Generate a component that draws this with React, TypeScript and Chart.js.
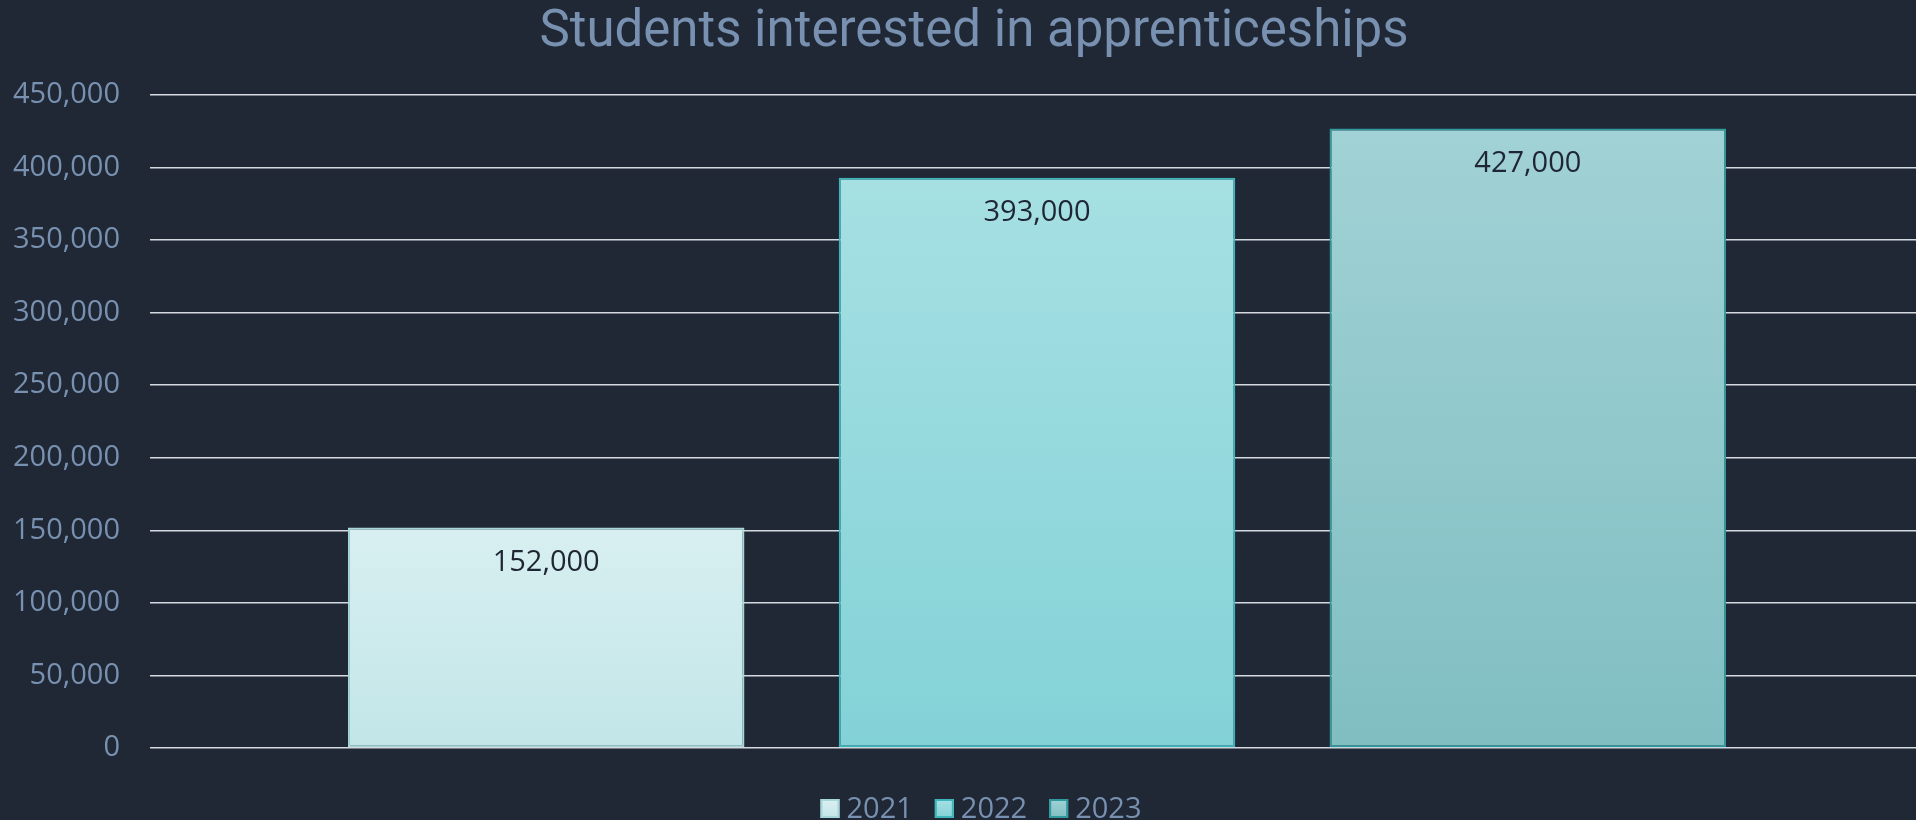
import React, { useEffect, useRef } from "react";
import { Chart, registerables } from "chart.js";

Chart.register(...registerables);

const title = "Students interested in apprenticeships";
const categories = [""];
const years = ["2021", "2022", "2023"];
const values = [152000, 393000, 427000];
const yTicks = [0, 50000, 100000, 150000, 200000, 250000, 300000, 350000, 400000, 450000];

const gradTop = ["#d8eff1", "#a6e0e3", "#a1d2d5"];
const gradBottom = ["#c2e6e8", "#83d2d7", "#80bec2"];
const borders = ["#a6d8db", "#3cb6bb", "#2e9a9e"];
const legendTop = ["#dcf0f2", "#a6e0e3", "#a1d2d5"];
const legendBottom = ["#c2e6e8", "#83d2d7", "#80bec2"];

const BG = "#202735";
const TEXT = "#7891b0";
const W = 1950;
const H = 820;
const FONT = "'Open Sans'";

const fmt = (v: number) => v.toLocaleString("en-US");

const labelPlugin = {
  id: "barLabels",
  afterDatasetsDraw(chart: any) {
    const ctx = chart.ctx;
    ctx.save();
    ctx.font = `29px ${FONT}`;
    ctx.fillStyle = "#1f2633";
    ctx.textAlign = "center";
    ctx.textBaseline = "middle";
    chart.data.datasets.forEach((ds: any, i: number) => {
      const meta = chart.getDatasetMeta(i);
      meta.data.forEach((el: any, j: number) => {
        ctx.fillText(fmt(ds.data[j]), el.x, el.y + 35);
      });
    });
    ctx.restore();
  },
};

const legendPlugin = {
  id: "customLegend",
  afterDraw(chart: any) {
    const ctx = chart.ctx;
    ctx.save();
    ctx.font = `29px ${FONT}`;
    const box = 19;
    const gap = 7;
    const itemGap = 22;
    const widths = years.map((y) => box + gap + ctx.measureText(y).width);
    const total = widths.reduce((a, b) => a + b, 0) + itemGap * (years.length - 1);
    let x = chart.width / 2 + 6 - total / 2;
    const boxTop = 799;
    const baseline = 818;
    years.forEach((y, i) => {
      const g = ctx.createLinearGradient(0, boxTop, 0, boxTop + box);
      g.addColorStop(0, legendTop[i]);
      g.addColorStop(1, legendBottom[i]);
      ctx.fillStyle = g;
      ctx.fillRect(x, boxTop, box, box);
      ctx.strokeStyle = borders[i];
      ctx.lineWidth = 2;
      ctx.strokeRect(x + 1, boxTop + 1, box - 2, box - 2);
      ctx.fillStyle = TEXT;
      ctx.textAlign = "left";
      ctx.textBaseline = "alphabetic";
      ctx.fillText(y, x + box + gap, baseline);
      x += widths[i] + itemGap;
    });
    ctx.restore();
  },
};

const bgPlugin = {
  id: "bg",
  beforeDraw(chart: any) {
    const ctx = chart.ctx;
    ctx.save();
    ctx.fillStyle = BG;
    ctx.fillRect(0, 0, chart.width, chart.height);
    ctx.restore();
  },
};

// widen the y-axis label clip box to the canvas edge so long tick labels are not cut
const axisClipPlugin = {
  id: "axisClip",
  afterLayout(chart: any) {
    if (chart.scales.y) chart.scales.y.left = 0;
  },
};

export default function App() {
  const ref = useRef<HTMLCanvasElement>(null);
  useEffect(() => {
    document.body.style.margin = "0";
    document.body.style.overflow = "hidden";
    document.body.style.background = BG;
    const chart = new Chart(ref.current!, {
      type: "bar",
      data: {
        labels: categories,
        datasets: years.map((y, i) => ({
          label: y,
          data: [values[i]],
          backgroundColor: (c: any) => {
            const ch = c.chart;
            const area = ch.chartArea;
            if (!area || !ch.scales.y) return gradTop[i];
            const top = ch.scales.y.getPixelForValue(values[i]);
            const g = ch.ctx.createLinearGradient(0, top, 0, area.bottom);
            g.addColorStop(0, gradTop[i]);
            g.addColorStop(1, gradBottom[i]);
            return g;
          },
          borderColor: borders[i],
          borderWidth: 2,
          borderSkipped: false,
          barPercentage: 0.808,
          categoryPercentage: 0.83,
        })),
      },
      options: {
        animation: false,
        responsive: false,
        maintainAspectRatio: false,
        layout: { padding: { left: 24, right: 26, top: 0, bottom: 72 } },
        plugins: {
          title: {
            display: true,
            text: title,
            color: TEXT,
            font: { family: "Roboto", size: 51, weight: "normal" },
            padding: { top: 3, bottom: 30.8 },
          },
          legend: { display: false },
          tooltip: { enabled: false },
        },
        scales: {
          x: {
            ticks: { display: false },
            grid: { display: false },
            border: { display: false },
            afterFit: (axis: any) => {
              axis.height = 0;
            },
          },
          y: {
            min: 0,
            max: 450000,
            afterBuildTicks: (axis: any) => {
              axis.ticks = yTicks.map((v) => ({ value: v }));
            },
            afterFit: (axis: any) => {
              axis.width = 126;
            },
            ticks: {
              color: TEXT,
              font: { family: FONT, size: 29 },
              padding: 30,
              callback: (v: any) => fmt(Number(v)),
            },
            grid: { color: "#d5d9e0", lineWidth: 1.5, drawTicks: false },
            border: { display: false },
          },
        },
      },
      plugins: [bgPlugin, axisClipPlugin, labelPlugin, legendPlugin],
    });
    return () => chart.destroy();
  }, []);
  return (
    <div style={{ width: W, height: H, overflow: "hidden" }}>
      <canvas ref={ref} width={W} height={H} style={{ width: W, height: H, display: "block" }} />
    </div>
  );
}
